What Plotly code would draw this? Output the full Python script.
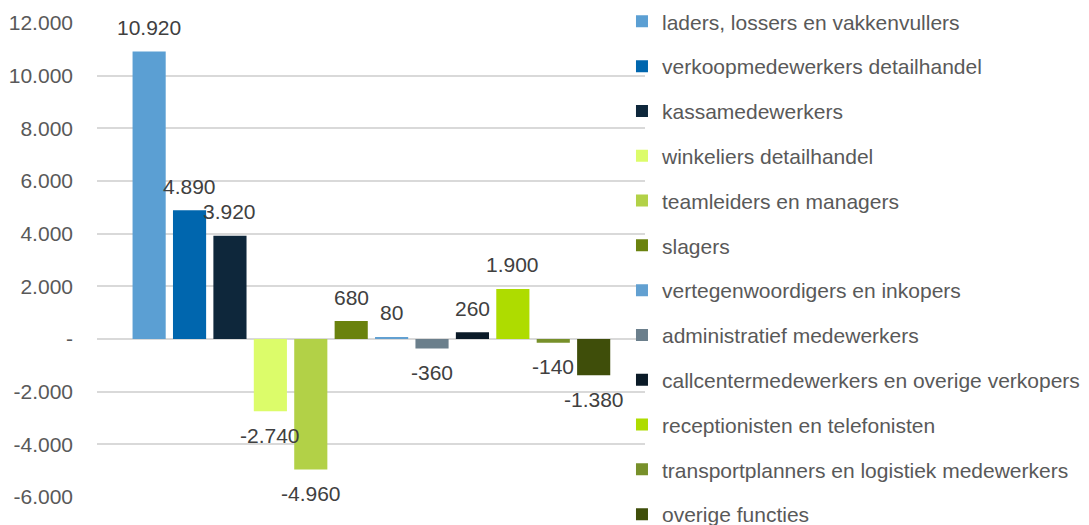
import plotly.graph_objects as go

series_names = [
    "laders, lossers en vakkenvullers",
    "verkoopmedewerkers detailhandel",
    "kassamedewerkers",
    "winkeliers detailhandel",
    "teamleiders en managers",
    "slagers",
    "vertegenwoordigers en inkopers",
    "administratief medewerkers",
    "callcentermedewerkers en overige verkopers",
    "receptionisten en telefonisten",
    "transportplanners en logistiek medewerkers",
    "overige functies",
]
values = [10920, 4890, 3920, -2740, -4960, 680, 80, -360, 260, 1900, -140, -1380]
colors = [
    "#5B9FD3", "#0066AE", "#0E273B", "#DCFC6A", "#B2D147", "#6A820E",
    "#62A0D1", "#6B7F8C", "#0A1A27", "#AEDC00", "#77902A", "#3F4E0A",
]
tick_vals = [-6000, -4000, -2000, 0, 2000, 4000, 6000, 8000, 10000, 12000]
tick_text = ["-6.000", "-4.000", "-2.000", "-", "2.000", "4.000", "6.000", "8.000", "10.000", "12.000"]


def fmt(v):
    return f"{v:,}".replace(",", ".")


fig = go.Figure()
for i, (name, v, c) in enumerate(zip(series_names, values, colors)):
    fig.add_trace(go.Bar(
        x=[i], y=[v], name=name, marker_color=c, marker_line_width=0,
        legendgroup=f"g{i}", width=0.82,
    ))
    fig.add_annotation(
        x=i, y=v, text=fmt(v), showarrow=False,
        yshift=24 if v >= 0 else -24,
        font=dict(family="Liberation Sans, Arial", size=21, color="#404040"),
    )

fig.update_layout(
    width=1089, height=525,
    margin=dict(l=97, r=444, t=23, b=28, autoexpand=False),
    paper_bgcolor="white", plot_bgcolor="white",
    barmode="overlay",
    showlegend=True,
    font=dict(family="Liberation Sans, Arial", size=21, color="#595959"),
    legend=dict(
        x=0.958, xanchor="left", y=1.046, yanchor="top",
        font=dict(size=21, color="#595959"),
        tracegroupgap=14.5, itemclick=False, maxheight=700,
        bgcolor="rgba(0,0,0,0)",
    ),
    xaxis=dict(range=[-1.29, 12.27], showticklabels=False, showgrid=False,
               zeroline=False, showline=False, ticks=""),
    yaxis=dict(range=[-6000, 12000], tickvals=tick_vals, ticktext=tick_text,
               showgrid=True, gridcolor="#D9D9D9", gridwidth=1.5,
               zeroline=True, zerolinecolor="#D9D9D9", zerolinewidth=1.5,
               tickfont=dict(size=21, color="#595959"), ticks="",
               ticklabelstandoff=23),
)

fig.write_html("out.html", config={"displayModeBar": False},
               post_script="document.body.style.margin='0';")
